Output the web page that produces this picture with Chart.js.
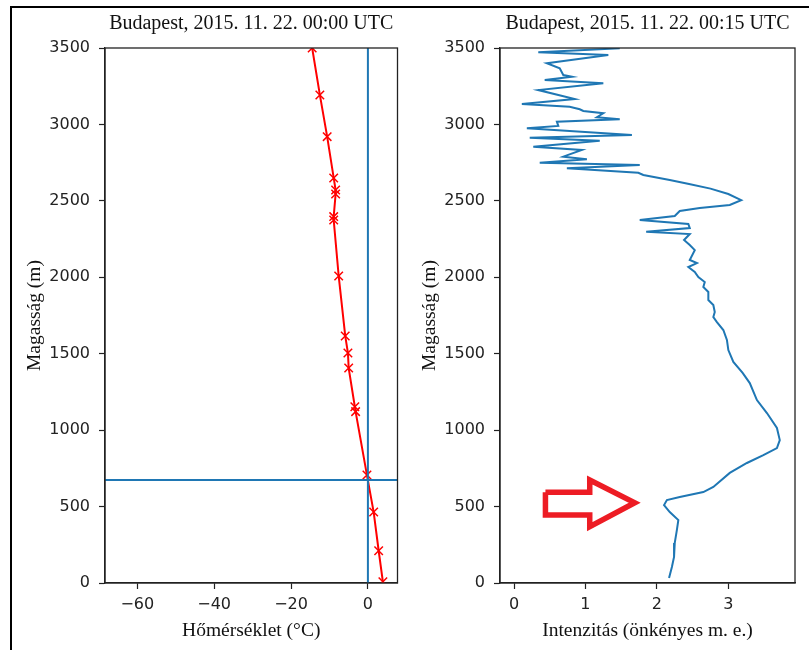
<!DOCTYPE html>
<html>
<head>
<meta charset="utf-8">
<script src="https://cdn.jsdelivr.net/npm/chart.js@4.4.1/dist/chart.umd.min.js"></script>
<style>
  body { margin: 0; background: #fff; }
  #wrap { position: relative; width: 809px; height: 650px; overflow: hidden; }
  #frame { position: absolute; left: 10px; top: 6px; right: 0; bottom: 0; border-left: 2px solid #000; border-top: 2px solid #000; pointer-events: none; }
  #tempChart { position: absolute; left: 0; top: 0; }
  #intChart { position: absolute; left: 405px; top: 0; }
</style>
</head>
<body>
<div id="wrap">
  <canvas id="tempChart" width="405" height="650"></canvas>
  <canvas id="intChart" width="404" height="650"></canvas>
  <div id="frame"></div>
</div>
<script>
const heightTicks = [0, 500, 1000, 1500, 2000, 2500, 3000, 3500]
const tempTicks = [-60, -40, -20, 0]
const intensityTicks = [0, 1, 2, 3]

// radiosonde: temperature (°C) against height (m)
const tempValues = [-14.5, -12.5, -10.6, -8.9, -8.4, -8.4, -8.9, -8.9, -7.6, -5.9, -5.2, -5.0, -3.4, -3.2, -0.25, 1.5, 2.8, 3.9]
const tempHeights = [3500, 3193, 2920, 2650, 2571, 2545, 2397, 2375, 2008, 1616, 1505, 1406, 1153, 1121, 706, 464, 211, 8]
const freezingLevel = 674

// profile intensity (arbitrary units) against height (m)
const intensityValues = [
  1.48, 0.34, 1.32, 0.46, 0.64, 0.69, 0.81, 0.43, 1.25, 0.34,
  0.85, 0.11, 0.78, 0.92, 0.97, 1.25, 1.16, 1.48, 0.6, 0.62,
  0.18, 1.65, 0.22, 1.2, 0.27, 0.95, 0.69, 1.02, 0.36, 1.76,
  0.74, 1.74, 1.81, 2.18, 2.45, 2.75, 3.0, 3.18, 3.02, 2.6,
  2.32, 2.25, 1.76, 2.44, 2.46, 1.85, 2.46, 2.38, 2.46, 2.53,
  2.46, 2.56, 2.44, 2.53, 2.58, 2.67, 2.65, 2.72, 2.72, 2.79,
  2.81, 2.79, 2.84, 2.93, 2.98, 3.0, 3.07, 3.2, 3.3, 3.4,
  3.54, 3.68, 3.72, 3.68, 3.49, 3.26, 3.02, 2.79, 2.65, 2.32,
  2.14, 2.1, 2.18, 2.3, 2.28, 2.25, 2.24, 2.21, 2.17
]
const intensityHeights = [
  3498, 3472, 3454, 3400, 3367, 3323, 3312, 3291, 3269, 3225,
  3166, 3134, 3116, 3099, 3088, 3073, 3047, 3034, 3018, 2990,
  2975, 2931, 2913, 2894, 2854, 2833, 2789, 2772, 2750, 2735,
  2713, 2684, 2669, 2636, 2610, 2580, 2545, 2505, 2473, 2453,
  2434, 2401, 2375, 2349, 2322, 2298, 2283, 2244, 2211, 2178,
  2113, 2093, 2067, 2035, 2002, 1969, 1936, 1904, 1851, 1819,
  1773, 1740, 1707, 1655, 1590, 1524, 1446, 1374, 1308, 1197,
  1112, 1014, 935, 883, 837, 785, 720, 628, 595, 563,
  543, 510, 464, 412, 347, 262, 170, 105, 33
]

// red arrow outline, in (intensity, height)
const arrowX = [0.44, 1.06, 1.06, 1.69, 1.06, 1.06, 0.44, 0.44]
const arrowY = [593, 593, 674, 525, 368, 445, 445, 593]

const toPoints = (xs, ys) => xs.map((x, i) => ({ x, y: ys[i] }))

Chart.defaults.font.family = 'DejaVu Sans'
Chart.defaults.color = '#222'
Chart.defaults.animation = false

const frame = {
  id: 'frame',
  afterDatasetsDraw(chart) {
    const { ctx, chartArea: a } = chart
    ctx.save()
    ctx.strokeStyle = '#222'
    ctx.lineWidth = 1.3
    ctx.strokeRect(a.left, a.top, a.right - a.left, a.bottom - a.top)
    ctx.restore()
  },
}

const serif = (size) => ({ family: 'Liberation Serif', size, weight: 'normal' })
const minus = (v) => String(v).replace('-', '\u2212')

const xAxis = (title, ticks, min, max) => ({
  type: 'linear',
  min,
  max,
  afterBuildTicks: (scale) => { scale.ticks = ticks.map((v) => ({ value: v })) },
  afterFit: (scale) => { scale.height = 67 },
  grid: { drawOnChartArea: false, tickLength: 6, tickColor: '#222', tickWidth: 1.2 },
  border: { color: '#222', width: 1.3 },
  ticks: { font: { size: 16 }, padding: 6, callback: minus, maxRotation: 0 },
  title: { display: true, text: title, font: serif(19.5), color: '#111', padding: { bottom: 7 } },
})

const yAxis = (width, titlePad) => ({
  type: 'linear',
  min: 0,
  max: 3500,
  afterBuildTicks: (scale) => { scale.ticks = heightTicks.map((v) => ({ value: v })) },
  afterFit: (scale) => { scale.width = width },
  grid: { drawOnChartArea: false, tickLength: 6, tickColor: '#222', tickWidth: 1.2 },
  border: { color: '#222', width: 1.3 },
  ticks: { font: { size: 16 }, padding: 9, callback: (v) => String(v) },
  title: { display: true, text: 'Magasság (m)', font: serif(19.5), color: '#111', padding: { top: titlePad } },
})

const titleOpts = (text) => ({
  display: true,
  text,
  fullSize: false,
  font: serif(20),
  color: '#111',
  padding: { top: 12, bottom: 12 },
})

const tempMin = -68.4
const tempMax = 7.7

new Chart(document.getElementById('tempChart'), {
  type: 'scatter',
  data: {
    datasets: [
      {
        data: [{ x: 0, y: 0 }, { x: 0, y: 3500 }],
        showLine: true,
        borderColor: '#1f77b4',
        borderWidth: 2,
        pointRadius: 0,
      },
      {
        data: [{ x: tempMin, y: freezingLevel }, { x: tempMax, y: freezingLevel }],
        showLine: true,
        borderColor: '#1f77b4',
        borderWidth: 2,
        pointRadius: 0,
      },
      {
        data: toPoints(tempValues, tempHeights),
        showLine: true,
        borderColor: '#ff0000',
        borderWidth: 2,
        pointStyle: 'crossRot',
        pointRadius: 6,
        pointBorderWidth: 1.5,
        pointBorderColor: '#ff0000',
      },
    ],
  },
  options: {
    responsive: false,
    layout: { padding: { left: 0, right: 4, top: 0, bottom: 0 } },
    plugins: { legend: { display: false }, tooltip: { enabled: false }, title: titleOpts('Budapest, 2015. 11. 22. 00:00 UTC') },
    scales: {
      x: xAxis('Hőmérséklet (°C)', tempTicks, tempMin, tempMax),
      y: yAxis(105, 23),
    },
  },
  plugins: [frame],
})

new Chart(document.getElementById('intChart'), {
  type: 'scatter',
  data: {
    datasets: [
      {
        data: toPoints(intensityValues, intensityHeights),
        showLine: true,
        borderColor: '#1f77b4',
        borderWidth: 2,
        pointRadius: 0,
      },
      {
        data: toPoints(arrowX, arrowY),
        showLine: true,
        borderColor: '#ed1c24',
        borderWidth: 5.5,
        borderJoinStyle: 'miter',
        pointRadius: 0,
      },
    ],
  },
  options: {
    responsive: false,
    layout: { padding: { left: 0, right: 14, top: 0, bottom: 0 } },
    plugins: { legend: { display: false }, tooltip: { enabled: false }, title: titleOpts('Budapest, 2015. 11. 22. 00:15 UTC') },
    scales: {
      x: xAxis('Intenzitás (önkényes m. e.)', intensityTicks, -0.196, 3.933),
      y: yAxis(95, 13),
    },
  },
  plugins: [frame],
})
</script>
</body>
</html>
